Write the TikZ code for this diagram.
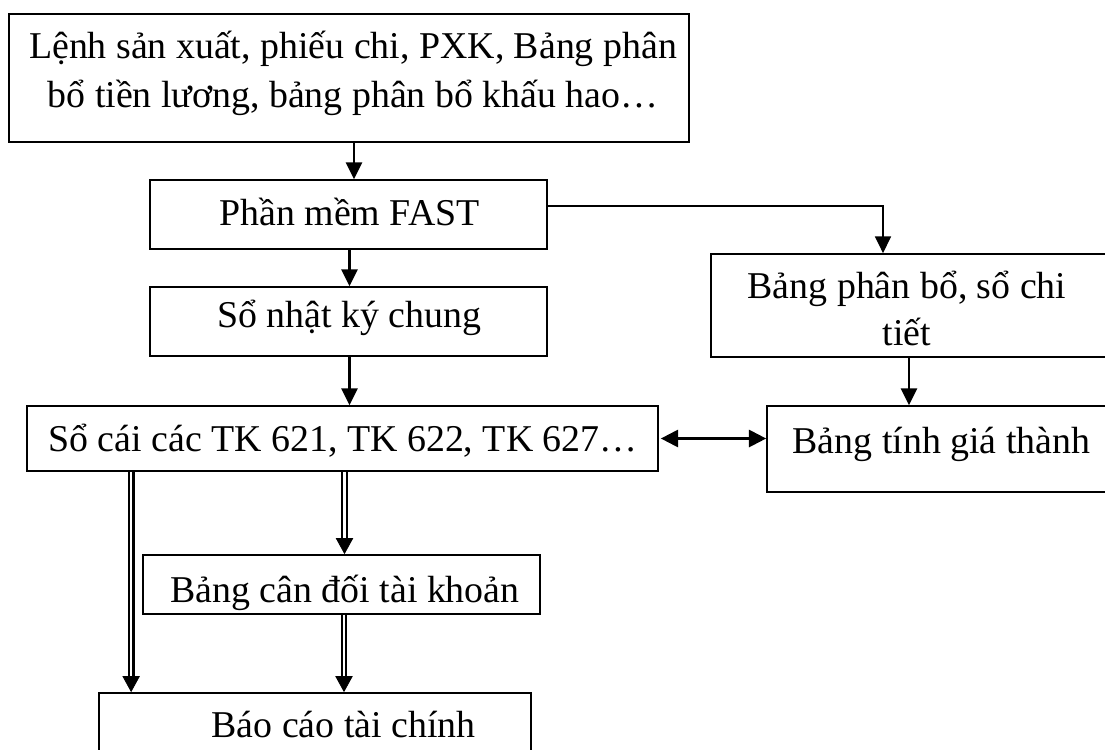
\documentclass[tikz,border=0pt]{standalone}
\usepackage{fontspec}
\setmainfont{Liberation Serif}
\usetikzlibrary{arrows.meta,calc}
\begin{document}
\begin{tikzpicture}[x=0.75pt,y=-0.75pt,
  box/.style={draw, line width=1.3pt, rectangle, inner sep=0pt},
  lbl/.style={font=\fontsize{28.4}{36}\selectfont, inner sep=0pt, anchor=base},
  tip/.style={-{Triangle[length=12.5pt,width=12pt]}},
  arr/.style={line width=1.6pt, tip},
  link/.style={line width=1pt},
  dbl/.style={double, double distance=1.9pt, line width=1.6pt},
  dbltip/.style={line width=0.6pt, -{Triangle[length=12pt,width=13pt]}},
  both/.style={line width=1.7pt, {Triangle[length=13pt,width=13pt]}-{Triangle[length=13pt,width=13pt]}},
]
\useasboundingbox (0,0) rectangle (1105,749);

% boxes
\node[box, minimum width=510pt,    minimum height=96pt]    (src)  at (349,78)      {};
\node[box, minimum width=297.75pt, minimum height=51.75pt] (fast) at (348.5,214.5) {};
\node[box, minimum width=297.75pt, minimum height=51.75pt] (nky)  at (348.5,321.5) {};
\node[box, minimum width=303pt,    minimum height=77.25pt] (pb)   at (913,305.5)   {};
\node[box, minimum width=473.25pt, minimum height=48.75pt] (cai)  at (342.5,438.5) {};
\node[box, minimum width=264.75pt, minimum height=64.5pt]  (gia)  at (943.5,449)   {};
\node[box, minimum width=297.75pt, minimum height=44.25pt] (cdtk) at (341.5,584.5) {};
\node[box, minimum width=324pt,    minimum height=50.25pt] (bc)   at (315,726.5)   {};

% labels
\node[lbl] (t1a) at (353,59)    {Lệnh sản xuất, phiếu chi, PXK, Bảng phân};
\node[lbl] (t1b) at (353,107)   {bổ tiền lương, bảng phân bổ khấu hao…};
\node[lbl] (t2)  at (349.5,225) {Phần mềm FAST};
\node[lbl] (t3)  at (349.5,327) {Sổ nhật ký chung};
\node[lbl] (t4a) at (907,298)   {Bảng phân bổ, sổ chi};
\node[lbl] (t4b) at (907,345)   {tiết};
\node[lbl] (t5)  at (343,451)   {Sổ cái các TK 621, TK 622, TK 627…};
\node[lbl] (t6)  at (941.5,453) {Bảng tính giá thành};
\node[lbl] (t7)  at (345,602)   {Bảng cân đối tài khoản};
\node[lbl] (t8)  at (343.5,737) {Báo cáo tài chính};

% single arrows
\draw[arr] ($(src.south)+(5,0)$) coordinate (a1) -- (a1 |- fast.north);
\draw[arr] ($(fast.south)+(1,0)$) coordinate (a2) -- (a2 |- nky.north);
\draw[arr] ($(nky.south)+(1,0)$) coordinate (a3) -- (a3 |- cai.north);
\draw[link, tip] ($(fast.east)+(0,-8.5)$) -| ($(pb.north)+(-30,0)$);
\draw[arr] ($(pb.south)+(-4,0)$) coordinate (a4) -- (a4 |- gia.north);
\draw[both] ($(cai.east)+(2,0)$) coordinate (b1) -- (b1 -| gia.west);

% double arrows
\coordinate (d1s) at ($(cai.south west)+(105,0)$);
\coordinate (d1e) at (d1s |- bc.north);
\draw[dbl] (d1s) -- ($(d1e)+(0,-14)$);
\draw[dbltip] ($(d1e)+(0,-16)$) -- (d1e);

\coordinate (d2s) at ($(cai.south)+(2,0)$);
\coordinate (d2e) at (d2s |- cdtk.north);
\draw[dbl] (d2s) -- ($(d2e)+(0,-14)$);
\draw[dbltip] ($(d2e)+(0,-16)$) -- (d2e);

\coordinate (d3s) at ($(cdtk.south)+(2.5,0)$);
\coordinate (d3e) at (d3s |- bc.north);
\draw[dbl] (d3s) -- ($(d3e)+(0,-14)$);
\draw[dbltip] ($(d3e)+(0,-16)$) -- (d3e);
\end{tikzpicture}
\end{document}
